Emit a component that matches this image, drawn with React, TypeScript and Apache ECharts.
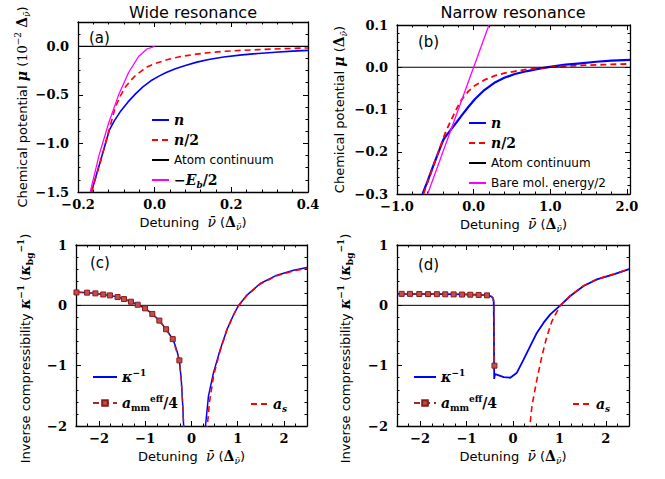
import React, { useEffect, useRef } from "react";
import * as echarts from "echarts";

type P = [number, number];
type M = [number, number, number];

// ---------- Panel (a): wide resonance, chemical potential (10^-2) ----------
const wideN: P[] = [
  [-0.165, -1.5], [-0.14, -1.16], [-0.118, -0.86], [-0.105, -0.765], [-0.09, -0.675],
  [-0.07, -0.575], [-0.05, -0.49], [-0.03, -0.415], [-0.01, -0.355], [0.01, -0.31],
  [0.03, -0.27], [0.054, -0.232], [0.08, -0.197], [0.11, -0.163], [0.141, -0.136],
  [0.18, -0.11], [0.228, -0.088], [0.27, -0.074], [0.315, -0.062], [0.36, -0.05], [0.4, -0.042],
];
const wideHalfN: P[] = [
  [-0.165, -1.5], [-0.14, -1.17], [-0.118, -0.85], [-0.103, -0.63], [-0.09, -0.515],
  [-0.0765, -0.42], [-0.063, -0.355], [-0.05, -0.3], [-0.035, -0.255], [-0.02, -0.213],
  [0.0, -0.178], [0.0366, -0.134], [0.065, -0.108], [0.0976, -0.087], [0.14, -0.066],
  [0.185, -0.051], [0.23, -0.041], [0.272, -0.034], [0.33, -0.025], [0.4, -0.017],
];
const wideContinuum: P[] = [[-0.2, 0], [0.4, 0]];
const wideBound: P[] = [
  [-0.168, -1.5], [-0.145, -1.12], [-0.12, -0.79], [-0.094, -0.5], [-0.068, -0.27],
  [-0.042, -0.105], [-0.02, -0.028], [0.0, 0.0],
];

// ---------- Panel (b): narrow resonance, chemical potential ----------
const narrowN: P[] = [
  [-0.667, -0.3], [-0.6, -0.269], [-0.545, -0.242], [-0.47, -0.206], [-0.394, -0.171],
  [-0.35, -0.16], [-0.307, -0.15], [-0.23, -0.132], [-0.155, -0.114], [-0.07, -0.094],
  [0.018, -0.075], [0.14, -0.054], [0.278, -0.036], [0.4, -0.025], [0.538, -0.016],
  [0.7, -0.009], [0.841, -0.004], [1.016, 0.0016], [1.2, 0.006], [1.36, 0.0088],
  [1.6, 0.013], [1.8, 0.0155], [2.04, 0.0176],
];
const narrowHalfN: P[] = [
  [-0.654, -0.3], [-0.55, -0.246], [-0.45, -0.196], [-0.38, -0.16], [-0.32, -0.135],
  [-0.264, -0.114], [-0.21, -0.094], [-0.155, -0.076], [-0.07, -0.057], [0.018, -0.043],
  [0.14, -0.03], [0.278, -0.02], [0.4, -0.014], [0.538, -0.0095], [0.7, -0.005],
  [0.841, -0.0024], [1.0, 0.0005], [1.146, 0.0024], [1.4, 0.0045], [1.7, 0.0062], [2.04, 0.008],
];
const narrowContinuum: P[] = [[-1, 0], [2.04, 0]];
const narrowBareMol: P[] = [[-0.6, -0.3], [0.2, 0.1]];

// ---------- Panel (c): wide resonance, inverse compressibility ----------
const wideKappaLeft: P[] = [
  [-2.5, 0.222], [-2.26, 0.21], [-2.08, 0.198], [-1.91, 0.181], [-1.766, 0.165],
  [-1.6, 0.137], [-1.462, 0.104], [-1.31, 0.06], [-1.165, 0.01], [-1.006, -0.05],
  [-0.848, -0.143], [-0.696, -0.253], [-0.551, -0.396], [-0.406, -0.56], [-0.36, -0.65],
  [-0.31, -0.77], [-0.262, -0.913], [-0.22, -1.25], [-0.19, -1.65], [-0.165, -2.1],
];
const wideKappaRight: P[] = [
  [0.29, -2.1], [0.367, -1.506], [0.475, -1.12], [0.62, -0.736], [0.765, -0.407],
  [0.909, -0.16], [1.004, -0.02], [1.2, 0.17], [1.488, 0.362], [1.85, 0.5],
  [2.21, 0.58], [2.5, 0.626],
];
// x, y, 1 = drawn with a square marker
const wideAmm: M[] = [
  [-2.49, 0.214, 1], [-2.26, 0.21, 1], [-2.08, 0.198, 1], [-1.91, 0.18, 1], [-1.766, 0.165, 1],
  [-1.6, 0.137, 1], [-1.462, 0.104, 1], [-1.31, 0.06, 1], [-1.165, 0.01, 1], [-1.006, -0.05, 1],
  [-0.848, -0.143, 1], [-0.696, -0.253, 1], [-0.551, -0.396, 1], [-0.406, -0.56, 1],
  [-0.262, -0.913, 1], [-0.22, -1.25, 0], [-0.19, -1.65, 0], [-0.165, -2.1, 0],
];
const wideAs: P[] = [
  [0.33, -2.1], [0.39, -1.6], [0.48, -1.16], [0.62, -0.75], [0.765, -0.41],
  [0.909, -0.16], [1.004, -0.02], [1.2, 0.165], [1.488, 0.355], [1.85, 0.49],
  [2.21, 0.57], [2.5, 0.615],
];

// ---------- Panel (d): narrow resonance, inverse compressibility ----------
const narrowKappa: P[] = [
  [-2.5, 0.19], [-2.0, 0.188], [-1.5, 0.185], [-1.0, 0.18], [-0.7, 0.172], [-0.55, 0.165],
  [-0.47, 0.15], [-0.43, 0.12], [-0.415, 0.05], [-0.41, -0.5], [-0.405, -1.22],
  [-0.39, -1.14], [-0.35, -1.15], [-0.2, -1.19], [-0.06, -1.2], [0.084, -1.116],
  [0.227, -0.9], [0.371, -0.675], [0.516, -0.453], [0.66, -0.287], [0.803, -0.15],
  [1.02, 0.0], [1.235, 0.155], [1.52, 0.32], [1.81, 0.43], [2.17, 0.514], [2.5, 0.6],
];
const narrowAmm: M[] = [
  [-2.4, 0.19, 1], [-2.22, 0.19, 1], [-2.02, 0.188, 1], [-1.83, 0.186, 1], [-1.64, 0.185, 1],
  [-1.46, 0.183, 1], [-1.28, 0.181, 1], [-1.1, 0.179, 1], [-0.92, 0.176, 1], [-0.74, 0.172, 1],
  [-0.56, 0.165, 1], [-0.47, 0.15, 0], [-0.43, 0.12, 0], [-0.41, 0.05, 0], [-0.4, -1.0, 1],
];
const narrowAs: P[] = [
  [0.35, -2.1], [0.408, -1.67], [0.516, -1.227], [0.624, -0.84], [0.732, -0.509],
  [0.84, -0.26], [1.02, 0.0], [1.235, 0.16], [1.52, 0.325], [1.81, 0.435],
  [2.17, 0.52], [2.5, 0.6],
];
const zeroLine: P[] = [[-2.5, 0], [2.5, 0]];

// ---------- text ----------
const titles = ["Wide resonance", "Narrow resonance"];
const panelLetters = ["(a)", "(b)", "(c)", "(d)"];
const xName = "Detuning  {mi|ν\u0304} ({bd|Δ}{sub|ν\u0304})";
const yNames = [
  "Chemical potential {mib|μ} ({rm|10}{sup|−2} {bd|Δ}{sub|ν\u0304})",
  "Chemical potential {mib|μ} ({bd|Δ}{sub|ν\u0304})",
  "Inverse compressibility {mib|κ}{supb|−1} ({mib|κ}{subr|bg}{supb|−1})",
  "Inverse compressibility {mib|κ}{supb|−1} ({mib|κ}{subr|bg}{supb|−1})",
];
const legendLabels: Record<string, string> = {
  "a:n": "{mib|n}",
  "a:n2": "{mib|n}{bdl|/2}",
  "a:atom": "{sf|Atom continuum}",
  "a:eb": "{bdl|−}{mib|E}{subi|b}{bdl|/2}",
  "b:n": "{mib|n}",
  "b:n2": "{mib|n}{bdl|/2}",
  "b:atom": "{sf|Atom continuum}",
  "b:bare": "{sf|Bare mol. energy/2}",
  "c:k": "{mib|κ}{supb|−1}",
  "c:amm": "{mib|a}{subr|mm}{supr|eff}{bdl|/4}",
  "c:as": "{mib|a}{subi|s}",
  "d:k": "{mib|κ}{supb|−1}",
  "d:amm": "{mib|a}{subr|mm}{supr|eff}{bdl|/4}",
  "d:as": "{mib|a}{subi|s}",
};

const SERIF = "DejaVu Serif";
const SANS = "DejaVu Sans";

const rich: any = {
  mi: { fontFamily: SERIF, fontStyle: "italic", fontSize: 14, lineHeight: 18 },
  mib: { fontFamily: SERIF, fontStyle: "italic", fontWeight: "bold", fontSize: 14, lineHeight: 18 },
  bd: { fontFamily: SERIF, fontWeight: "bold", fontSize: 14, lineHeight: 18 },
  bdl: { fontFamily: SERIF, fontWeight: "bold", fontSize: 14, lineHeight: 18 },
  rm: { fontFamily: SERIF, fontSize: 13, lineHeight: 18 },
  sup: { fontFamily: SERIF, fontSize: 9, lineHeight: 10, verticalAlign: "top" },
  supb: { fontFamily: SERIF, fontWeight: "bold", fontSize: 9, lineHeight: 10, verticalAlign: "top" },
  supr: { fontFamily: SERIF, fontWeight: "bold", fontSize: 9, lineHeight: 10, verticalAlign: "top" },
  sub: { fontFamily: SERIF, fontStyle: "italic", fontSize: 9, lineHeight: 10, verticalAlign: "bottom" },
  subi: { fontFamily: SERIF, fontStyle: "italic", fontWeight: "bold", fontSize: 9, lineHeight: 10, verticalAlign: "bottom" },
  subr: { fontFamily: SERIF, fontWeight: "bold", fontSize: 9, lineHeight: 10, verticalAlign: "bottom" },
  sf: { fontFamily: SANS, fontSize: 12, lineHeight: 18 },
};

const grids = [
  { left: 78, top: 22, width: 230, height: 170 },
  { left: 397, top: 25, width: 233, height: 169 },
  { left: 76, top: 245, width: 231, height: 181 },
  { left: 397, top: 245, width: 232, height: 181 },
];

const xCfg: any[] = [
  { min: -0.2, max: 0.4, interval: 0.2, minor: 5, step: 0.2, dec: 1 },
  { min: -1, max: 2.04, splitNumber: 3, minor: 5, step: 1, dec: 1 },
  { min: -2.5, max: 2.5, splitNumber: 5, minor: 4, step: 1, dec: 0 },
  { min: -2.5, max: 2.5, splitNumber: 5, minor: 4, step: 1, dec: 0 },
];
const yCfg: any[] = [
  { min: -1.5, max: 0.25, splitNumber: 4, minor: 4, step: 0.5, dec: 1, gap: 47, pad: [0, 0, 0, 0] },
  { min: -0.3, max: 0.1, interval: 0.1, minor: 5, step: 0.1, dec: 1, gap: 49, pad: [0, 0, 0, 0] },
  { min: -2, max: 1, interval: 1, minor: 5, step: 1, dec: 0, gap: 42, pad: [0, 26, 0, 0] },
  { min: -2, max: 1, interval: 1, minor: 5, step: 1, dec: 0, gap: 43, pad: [0, 26, 0, 0] },
];

function fmt(step: number, dec: number) {
  return (v: number) => {
    const r = v / step;
    if (Math.abs(r - Math.round(r)) > 1e-6) return "";
    const s = Math.abs(v).toFixed(dec);
    return (v < -1e-9 ? "−" : "") + s;
  };
}

const frame = { show: true, onZero: false, lineStyle: { color: "#000", width: 1.3 } };
const tickLab = { fontFamily: SERIF, fontWeight: "bold", fontSize: 13, color: "#000" };

function makeX(i: number, top: boolean) {
  const c = xCfg[i];
  const ax: any = {
    type: "value", gridIndex: i, position: top ? "top" : "bottom",
    min: c.min, max: c.max,
    axisLine: frame,
    axisTick: { show: true, inside: true, length: 5, lineStyle: { color: "#000", width: 1 } },
    minorTick: { show: true, splitNumber: c.minor, length: 2.5, lineStyle: { color: "#000", width: 1 } },
    splitLine: { show: false },
    axisLabel: top ? { show: false } : { ...tickLab, margin: 6, formatter: fmt(c.step, c.dec) },
  };
  if (c.interval !== undefined) ax.interval = c.interval; else ax.splitNumber = c.splitNumber;
  if (!top) {
    ax.name = xName;
    ax.nameLocation = "middle";
    ax.nameGap = 21;
    ax.nameTextStyle = { fontFamily: SANS, fontSize: 13, color: "#000", lineHeight: 18, rich };
  }
  return ax;
}

function makeY(i: number, right: boolean) {
  const c = yCfg[i];
  const ax: any = {
    type: "value", gridIndex: i, position: right ? "right" : "left",
    min: c.min, max: c.max,
    axisLine: frame,
    axisTick: { show: true, inside: true, length: 5, lineStyle: { color: "#000", width: 1 } },
    minorTick: { show: true, splitNumber: c.minor, length: 2.5, lineStyle: { color: "#000", width: 1 } },
    splitLine: { show: false },
    axisLabel: right ? { show: false } : { ...tickLab, margin: 9, formatter: fmt(c.step, c.dec) },
  };
  if (c.interval !== undefined) ax.interval = c.interval; else ax.splitNumber = c.splitNumber;
  if (!right) {
    ax.name = yNames[i];
    ax.nameLocation = "middle";
    ax.nameGap = c.gap;
    ax.nameTextStyle = { fontFamily: SANS, fontSize: 13, color: "#000", lineHeight: 18, padding: c.pad, rich };
  }
  return ax;
}

function line(name: string, data: any[], g: number, color: string, width: number, dashed: boolean, extra: any = {}) {
  return {
    type: "line", name, data, xAxisIndex: g * 2, yAxisIndex: g * 2,
    symbol: "circle", showSymbol: false, clip: true, silent: true,
    lineStyle: { color, width, type: dashed ? [6, 4] : "solid", opacity: 1 },
    itemStyle: { color, opacity: 0 },
    ...extra,
  };
}

function markerSeries(name: string, rows: M[], g: number) {
  const data = rows.map((r) => (r[2] ? { value: [r[0], r[1]] } : { value: [r[0], r[1]], symbol: "none" }));
  return line(name, data, g, "#a52a2a", 1.5, true, {
    symbol: "rect", showSymbol: true, symbolSize: 5,
    itemStyle: { color: "#c0504d", borderColor: "#8b1a1a", borderWidth: 1, opacity: 1 },
  });
}

function legend(names: string[], left: number, top: number, itemWidth: number, itemHeight: number, itemGap: number) {
  return {
    data: names, left, top, orient: "vertical", itemWidth, itemHeight, itemGap, padding: 0,
    selectedMode: false,
    formatter: (n: string) => legendLabels[n] || n,
    textStyle: { color: "#000", fontFamily: SANS, fontSize: 12, lineHeight: 18, rich },
  };
}

export default function App() {
  const ref = useRef<HTMLDivElement>(null);
  useEffect(() => {
    if (!ref.current) return;
    const chart = echarts.init(ref.current, undefined, { renderer: "svg" });
    const xAxis: any[] = [];
    const yAxis: any[] = [];
    for (let i = 0; i < 4; i++) {
      xAxis.push(makeX(i, false), makeX(i, true));
      yAxis.push(makeY(i, false), makeY(i, true));
    }
    const series: any[] = [
      line("a:n", wideN, 0, "#0000ff", 1.6, false),
      line("a:n2", wideHalfN, 0, "#ff0000", 1.6, true),
      line("a:atom", wideContinuum, 0, "#000000", 1.2, false),
      line("a:eb", wideBound, 0, "#ff00ff", 1.3, false),

      line("b:n", narrowN, 1, "#0000ff", 2.2, false),
      line("b:n2", narrowHalfN, 1, "#ff0000", 1.8, true),
      line("b:atom", narrowContinuum, 1, "#000000", 1.2, false),
      line("b:bare", narrowBareMol, 1, "#ff00ff", 1.3, false),

      line("zero-c", zeroLine, 2, "#000000", 1, false),
      line("c:k", wideKappaLeft, 2, "#0000ff", 1.5, false),
      line("c:k", wideKappaRight, 2, "#0000ff", 1.5, false),
      markerSeries("c:amm", wideAmm, 2),
      line("c:as", wideAs, 2, "#ff0000", 1.6, true),

      line("zero-d", zeroLine, 3, "#000000", 1, false),
      line("d:k", narrowKappa, 3, "#0000ff", 1.8, false),
      markerSeries("d:amm", narrowAmm, 3),
      line("d:as", narrowAs, 3, "#ff0000", 1.6, true),
    ];
    const text = (s: string, x: number, y: number, size: number, align: string) => ({
      type: "text", x, y, silent: true,
      style: { text: s, fontFamily: SANS, fontSize: size, fill: "#000", align, verticalAlign: "middle" },
    });
    chart.setOption({
      animation: false,
      backgroundColor: "#ffffff",
      textStyle: { fontFamily: SANS },
      grid: grids,
      xAxis,
      yAxis,
      series,
      legend: [
        legend(["a:n", "a:n2", "a:atom", "a:eb"], 151, 111, 17, 10, 2),
        legend(["b:n", "b:n2", "b:atom", "b:bare"], 468, 114, 17, 10, 2),
        legend(["c:k", "c:amm"], 92, 368, 24, 7, 8),
        legend(["c:as"], 250, 395, 17, 7, 2),
        legend(["d:k", "d:amm"], 413, 368, 22, 7, 8),
        legend(["d:as"], 572, 395, 18, 7, 2),
      ],
      graphic: [
        text(titles[0], 193, 12, 16, "center"),
        text(titles[1], 513, 12, 16, "center"),
        text(panelLetters[0], 89, 38, 15, "left"),
        text(panelLetters[1], 418, 42, 15, "left"),
        text(panelLetters[2], 90, 263, 15, "left"),
        text(panelLetters[3], 418, 265, 15, "left"),
      ],
    });
    return () => chart.dispose();
  }, []);
  return (
    <div
      ref={ref}
      style={{ position: "fixed", left: 0, top: 0, width: 665, height: 479, background: "#fff" }}
    />
  );
}
